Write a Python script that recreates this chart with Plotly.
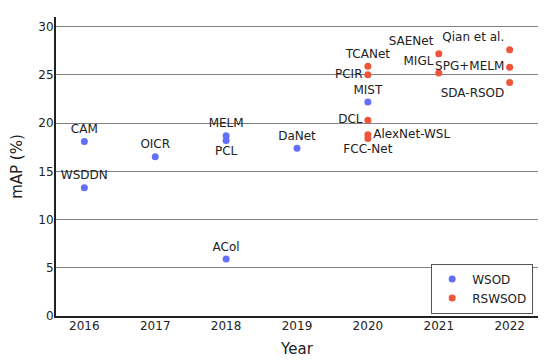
import plotly.graph_objects as go

wsod_names = ["CAM", "WSDDN", "OICR", "MELM", "PCL", "ACol", "DaNet", "MIST"]
wsod_years = [2016, 2016, 2017, 2018, 2018, 2018, 2019, 2020]
wsod_map = [18.1, 13.3, 16.5, 18.7, 18.2, 5.9, 17.4, 22.2]
wsod_pos = ["top center", "top center", "top center", "top center", "bottom center",
            "top center", "top center", "top center"]

rs_names = ["TCANet", "PCIR", "DCL", "AlexNet-WSL", "FCC-Net", "SAENet", "MIGL",
            "Qian et al.", "SPG+MELM", "SDA-RSOD"]
rs_years = [2020, 2020, 2020, 2020, 2020, 2021, 2021, 2022, 2022, 2022]
rs_map = [25.9, 25.0, 20.3, 18.8, 18.4, 27.2, 25.2, 27.6, 25.8, 24.2]
rs_pos = ["top center", "middle left", "middle left", "middle right", "bottom center",
          "top left", "top left", "top left", "middle left", "bottom left"]

year_ticks = [2016, 2017, 2018, 2019, 2020, 2021, 2022]
map_ticks = [0, 5, 10, 15, 20, 25, 30]

font = "DejaVu Sans, Verdana, sans-serif"

fig = go.Figure()
fig.add_trace(go.Scatter(
    x=wsod_years, y=wsod_map, text=wsod_names, mode="markers+text",
    textposition=wsod_pos, name="WSOD",
    marker=dict(color="#636efa", size=7),
    textfont=dict(family=font, size=12, color="#222"),
))
fig.add_trace(go.Scatter(
    x=rs_years, y=rs_map, text=rs_names, mode="markers+text",
    textposition=rs_pos, name="RSWSOD",
    marker=dict(color="#ef553b", size=7),
    textfont=dict(family=font, size=12, color="#222"),
))

fig.update_layout(
    width=542, height=355,
    margin=dict(l=48, r=12, t=9, b=47),
    plot_bgcolor="white", paper_bgcolor="white",
    font=dict(family=font, size=12, color="#222"),
    legend=dict(
        x=0.99, y=0.008, xanchor="right", yanchor="bottom",
        bordercolor="#555", borderwidth=1, bgcolor="white",
        font=dict(family=font, size=12),
        itemwidth=30, tracegroupgap=2,
    ),
    xaxis=dict(
        range=[2015.6, 2022.4], tickvals=year_ticks, ticktext=[str(y) for y in year_ticks],
        showgrid=False, showline=True, linecolor="#222", linewidth=2, zeroline=False,
        title=dict(text="Year", font=dict(size=15), standoff=11),
        tickfont=dict(size=12), automargin=False, ticklabelstandoff=-2,
    ),
    yaxis=dict(
        range=[0, 31], tickvals=map_ticks,
        showgrid=True, gridcolor="#808080", gridwidth=1.3,
        showline=True, linecolor="#222", linewidth=2, zeroline=False,
        title=dict(text="mAP (%)", font=dict(size=15), standoff=15),
        tickfont=dict(size=12), automargin=False, ticklabelstandoff=-2,
    ),
)

fig.write_html("out.html")
